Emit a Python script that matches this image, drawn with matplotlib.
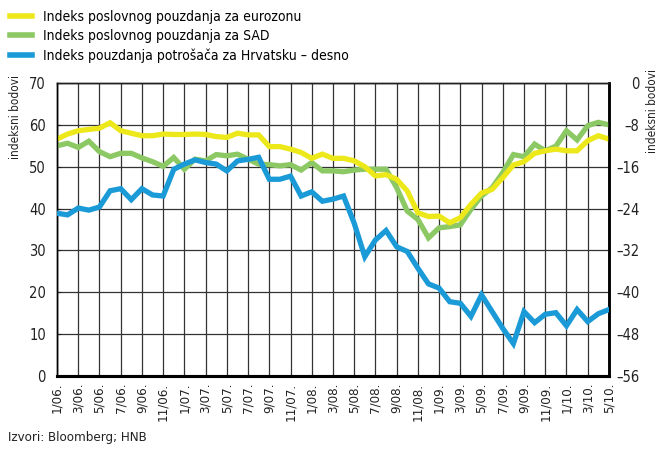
import numpy as np
import matplotlib
matplotlib.use("Agg")
import matplotlib.pyplot as plt
from matplotlib.lines import Line2D

plt.rcParams['font.family'] = ['DejaVu Sans']
plt.rcParams['font.stretch'] = 'condensed'

# monthly data 1/06 - 5/10
months = [f"{m}/{y:02d}." for y in range(6, 11) for m in range(1, 13)][:53]

eurozone = [56.6, 57.8, 58.6, 58.9, 59.2, 60.5, 58.6, 58.0, 57.4, 57.4,
            57.8, 57.7, 57.7, 57.8, 57.7, 57.2, 57.0, 58.0, 57.6, 57.6,
            54.8, 54.8, 54.2, 53.4, 52.0, 53.0, 52.0, 52.0, 51.4, 50.0,
            47.8, 48.1, 47.0, 44.2, 39.0, 38.1, 38.2, 36.6, 37.8, 41.0,
            43.7, 44.6, 47.4, 50.4, 51.2, 53.2, 53.8, 54.2, 53.8, 53.8,
            56.2, 57.4, 56.6]

usa = [55.0, 55.6, 54.6, 56.1, 53.6, 52.4, 53.2, 53.2, 52.1, 51.2,
       50.1, 52.2, 49.4, 51.8, 51.4, 52.9, 52.6, 53.0, 51.8, 50.6,
       50.5, 50.2, 50.5, 49.2, 51.0, 49.0, 49.0, 48.8, 49.2, 49.4,
       49.4, 49.4, 45.0, 39.4, 37.4, 33.0, 35.4, 35.7, 36.1, 39.8,
       43.0, 45.0, 48.6, 52.9, 52.4, 55.4, 53.8, 54.9, 58.6, 56.4,
       59.8, 60.6, 60.0]

# right axis
croatia = [-24.9, -25.2, -23.9, -24.3, -23.7, -20.6, -20.2, -22.3, -20.2, -21.4,
           -21.6, -16.5, -15.5, -14.7, -15.2, -15.5, -16.8, -14.9, -14.6, -14.2,
           -18.4, -18.4, -17.8, -21.6, -20.8, -22.6, -22.2, -21.6, -26.8, -33.2,
           -30.0, -28.2, -31.3, -32.2, -35.4, -38.4, -39.2, -41.8, -42.1, -44.6,
           -40.5, -43.7, -46.9, -49.8, -43.7, -45.8, -44.2, -43.9, -46.4, -43.3,
           -45.6, -44.1, -43.3]

labels = ["Indeks poslovnog pouzdanja za eurozonu",
          "Indeks poslovnog pouzdanja za SAD",
          "Indeks pouzdanja potrošača za Hrvatsku – desno"]

YELLOW = "#ece81a"
GREEN = "#8cc864"
BLUE = "#1a9ad7"
TXT = "#222222"

x = np.arange(len(months))

fig = plt.figure(figsize=(6.59, 4.50), dpi=100)
ax = fig.add_axes([0.0865, 0.1644, 0.8375, 0.6512])
ax2 = ax.twinx()

ax.plot(x, usa, color=GREEN, lw=3.8, solid_joinstyle='miter', zorder=3)
ax.plot(x, eurozone, color=YELLOW, lw=3.8, solid_joinstyle='miter', zorder=4)
ax2.plot(x, croatia, color=BLUE, lw=3.8, solid_joinstyle='miter', zorder=5)

ax.set_xlim(0, len(months) - 1)
ax.set_ylim(0, 70)
ax2.set_ylim(-56, 0)
ax.set_yticks(range(0, 71, 10))
ax2.set_yticks(range(-56, 1, 8))
ax2.set_yticklabels([str(v).replace('-', '–') for v in range(-56, 1, 8)], ha='right')

ax.set_xticks(x[::2])
ax.set_xticklabels(months[::2], rotation=90, fontsize=9.5, color=TXT)
ax.grid(True, color="#333333", lw=0.9)
ax.set_axisbelow(True)
ax.tick_params(axis='x', length=0, pad=5)
ax.tick_params(axis='y', direction='in', length=3, pad=8, labelsize=10.5, colors=TXT)
ax2.tick_params(axis='y', length=0, pad=22, labelsize=10.5, colors=TXT)

for a in (ax, ax2):
    a.spines['left'].set_linewidth(1.0)
    a.spines['top'].set_color(TXT)
    a.spines['top'].set_linewidth(1.0)
    a.spines['right'].set_linewidth(1.8)
    a.spines['bottom'].set_linewidth(2.2)

ax.set_ylabel("indeksni bodovi", fontsize=8.5, color=TXT)
ax.yaxis.set_label_coords(-0.064, 0.885)
ax2.set_ylabel("indeksni bodovi", fontsize=8.5, color=TXT, rotation=90)
ax2.yaxis.set_label_coords(1.068, 0.905)

handles = [Line2D([], [], color=c, lw=4) for c in (YELLOW, GREEN, BLUE)]
fig.legend(handles, labels, loc='upper left', bbox_to_anchor=(0.0, 1.0),
           frameon=False, fontsize=10, handlelength=1.6, handletextpad=0.8,
           labelspacing=0.38, borderaxespad=0.3)

fig.text(0.012, 0.02, "Izvori: Bloomberg; HNB", fontsize=9.5, color=TXT)

fig.savefig("out.png", dpi=100)
